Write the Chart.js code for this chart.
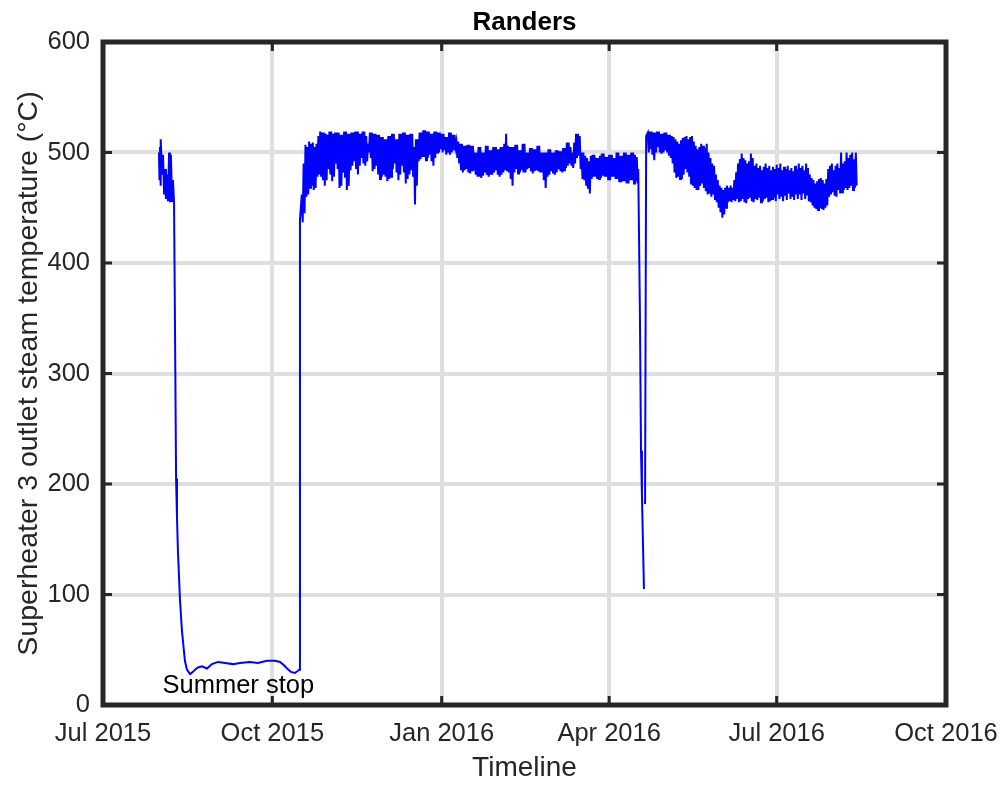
<!DOCTYPE html>
<html lang="en">
<head>
    <meta charset="UTF-8">
    <title>Randers</title>
    <script src="https://cdn.jsdelivr.net/npm/chart.js@4"></script>
    <style>
        html, body { margin: 0; padding: 0; background: #fff; }
        canvas { display: block; }
    </style>
</head>
<body>
<canvas id="tempChart" width="1005" height="787"></canvas>
<script>
    // x values are days counted from 1 Jul 2015
    const tickDays = [0, 92, 184, 275, 366, 458];
    const tickLabels = ['Jul 2015', 'Oct 2015', 'Jan 2016', 'Apr 2016', 'Jul 2016', 'Oct 2016'];

    // start-up, summer stop and restart
    const summerDays = [30.4, 30.7, 31.0, 31.2, 31.5, 32.1, 32.6, 33.2, 33.7, 34.2,
        34.8, 35.3, 35.9, 36.4, 36.9, 37.5, 38.0, 38.6, 39.1, 39.3,
        39.7, 40.2, 40.7, 41.8, 42.9, 44.5, 45.6, 47.3, 48.9, 50.0,
        51.6, 53.8, 56.5, 59.2, 62.5, 66.3, 70.6, 74.4, 79.9, 84.2,
        89.1, 93.4, 96.2, 98.3, 100.0, 102.1, 104.3, 105.9, 106.6, 107.0];
    const summerTemps = [500, 475, 505, 470, 512, 480, 498, 462, 485, 458,
        480, 456, 500, 455, 498, 456, 475, 455, 455, 300,
        205, 170, 140, 96, 67, 40, 32, 28, 30, 32,
        34, 35, 33, 37, 39, 38, 37, 38, 39, 38,
        40, 40, 39, 36, 33, 30, 29, 31, 32, 439];

    // daily high / low, mid Oct 2015 to mid Apr 2016
    const winterStartDay = 108;
    const winterHigh = [
        462, 490, 507, 505, 510, 508, 509, 505, 508, 515,
        519, 518, 518, 517, 516, 519, 519, 517, 518, 518,
        518, 516, 516, 519, 519, 517, 517, 518, 518, 519,
        519, 517, 517, 519, 519, 515, 508, 518, 518, 517,
        517, 516, 516, 514, 514, 512, 512, 515, 515, 517,
        517, 512, 512, 517, 517, 518, 518, 516, 516, 517,
        517, 505, 512, 512, 518, 518, 520, 520, 519, 519,
        517, 517, 519, 519, 518, 518, 517, 517, 514, 514,
        518, 518, 516, 516, 510, 510, 508, 508, 506, 506,
        507, 507, 506, 506, 500, 500, 505, 505, 500, 500,
        506, 506, 502, 502, 505, 505, 503, 503, 505, 505,
        508, 517, 506, 505, 505, 505, 507, 507, 502, 502,
        508, 508, 500, 500, 504, 504, 503, 503, 506, 506,
        500, 500, 500, 500, 503, 503, 500, 500, 502, 502,
        501, 501, 504, 504, 509, 509, 505, 500, 509, 517,
        517, 515, 500, 500, 497, 495, 492, 497, 498, 498,
        495, 495, 497, 499, 499, 496, 496, 498, 498, 495,
        495, 500, 500, 497, 497, 500, 500, 498, 498, 500,
        500, 498, 496
    ];
    const winterLow = [
        437, 445, 460, 462, 468, 470, 466, 468, 478, 480,
        478, 475, 470, 475, 485, 480, 474, 478, 490, 485,
        468, 470, 482, 478, 466, 470, 484, 488, 492, 485,
        480, 488, 495, 490, 488, 492, 500, 495, 483, 485,
        488, 480, 476, 478, 480, 478, 474, 476, 478, 485,
        490, 482, 475, 480, 488, 482, 472, 476, 480, 484,
        478, 453, 470, 492, 494, 496, 496, 493, 495, 498,
        492, 488, 495, 500, 500, 503, 500, 502, 498, 500,
        498, 500, 502, 505, 495, 490, 484, 482, 484, 485,
        482, 481, 484, 484, 480, 478, 478, 477, 479, 482,
        480, 478, 480, 480, 482, 484, 480, 478, 480, 482,
        484, 484, 482, 476, 470, 482, 485, 481, 482, 484,
        482, 482, 485, 486, 483, 481, 483, 484, 483, 482,
        482, 475, 468, 478, 480, 483, 482, 480, 482, 485,
        483, 482, 484, 486, 488, 490, 488, 486, 490, 495,
        497, 485, 476, 475, 470, 468, 463, 476, 478, 478,
        476, 476, 477, 479, 478, 478, 475, 475, 478, 478,
        476, 476, 473, 473, 474, 474, 472, 472, 475, 475,
        472, 474, 472
    ];

    // April trip, null = gap in the log
    const tripDays = [290.8, 291.7, 292.3, 292.8, 293.9, 294.2, 294.5, 294.8, 295.1];
    const tripTemps = [485, 355, 230, 190, 105, null, 182, 182, 515];

    // daily high / low after the restart
    const springStartDay = 296;
    const springHigh = [
        518, 519, 519, 518, 518, 519, 519, 517, 517, 518,
        518, 516, 516, 515, 514, 512, 510, 508, 511, 513,
        514, 515, 512, 514, 515, 510, 506, 503, 505, 508,
        506, 504, 508, 500, 495, 490, 488, 480, 475, 470,
        468, 466, 468, 470, 468, 470, 468, 475, 482, 490,
        494, 499, 495, 493, 490, 492, 499, 495, 488, 490,
        486, 488, 484, 487, 490, 486, 488, 484, 487, 485,
        489, 486, 490, 484, 487, 485, 488, 484, 486, 483,
        488, 485, 490, 486, 488, 484, 490, 486, 480, 477,
        475, 472, 474, 476, 477, 475, 472, 476, 485, 488,
        490, 484, 488, 490, 486, 500, 490, 492, 500, 495,
        498, 500, 494, 500
    ];
    const springLow = [
        500, 503, 498, 493, 500, 505, 500, 499, 500, 502,
        500, 497, 495, 490, 482, 477, 478, 476, 476, 480,
        485, 482, 478, 472, 470, 468, 466, 466, 470, 472,
        468, 465, 462, 463, 460, 462, 458, 455, 450, 446,
        441, 444, 450, 455, 456, 455, 457, 456, 458, 455,
        456, 458, 455, 454, 458, 459, 456, 455, 458, 457,
        459, 455, 456, 458, 459, 455, 456, 458, 459, 456,
        462, 458, 460, 456, 461, 457, 463, 458, 460, 457,
        462, 458, 462, 457, 463, 458, 462, 456, 455, 452,
        450, 449, 448, 450, 449, 448, 450, 452, 460, 462,
        464, 461, 460, 466, 463, 464, 466, 468, 466, 468,
        470, 466, 468, 470
    ];

    const fontFamily = "'Liberation Sans', Arial, Helvetica, sans-serif";
    const axisColor = '#262626';

    function buildPoints() {
        const pts = [];
        summerDays.forEach((d, i) => pts.push({ x: d, y: summerTemps[i] }));
        winterHigh.forEach((h, i) => {
            pts.push({ x: winterStartDay + i, y: h });
            pts.push({ x: winterStartDay + i + 0.5, y: winterLow[i] });
        });
        tripDays.forEach((d, i) => pts.push({ x: d, y: tripTemps[i] }));
        springHigh.forEach((h, i) => {
            pts.push({ x: springStartDay + i, y: h });
            pts.push({ x: springStartDay + i + 0.5, y: springLow[i] });
        });
        return pts;
    }

    // MATLAB style box with inward ticks, title over the plot area
    const boxPlugin = {
        id: 'boxPlugin',
        afterDraw(chart) {
            const { ctx, chartArea: a, scales } = chart;
            ctx.save();
            ctx.strokeStyle = axisColor;
            ctx.lineWidth = 3;
            const tl = 9;
            ctx.beginPath();
            tickDays.forEach(d => {
                const px = scales.x.getPixelForValue(d);
                ctx.moveTo(px, a.bottom); ctx.lineTo(px, a.bottom - tl);
                ctx.moveTo(px, a.top); ctx.lineTo(px, a.top + tl);
            });
            for (let v = 0; v <= 600; v += 100) {
                const py = scales.y.getPixelForValue(v);
                ctx.moveTo(a.left, py); ctx.lineTo(a.left + tl, py);
                ctx.moveTo(a.right, py); ctx.lineTo(a.right - tl, py);
            }
            ctx.stroke();
            ctx.lineWidth = 5;
            ctx.strokeRect(a.left, a.top, a.right - a.left, a.bottom - a.top);

            ctx.fillStyle = '#000';
            ctx.font = 'bold 26px ' + fontFamily;
            ctx.textAlign = 'center';
            ctx.textBaseline = 'middle';
            ctx.fillText('Randers', (a.left + a.right) / 2, 23);
            ctx.restore();
        }
    };

    const notePlugin = {
        id: 'notePlugin',
        afterDatasetsDraw(chart) {
            const { ctx, scales } = chart;
            ctx.save();
            ctx.fillStyle = '#000';
            ctx.font = '25.5px ' + fontFamily;
            ctx.textAlign = 'center';
            ctx.textBaseline = 'middle';
            ctx.fillText('Summer stop', scales.x.getPixelForValue(73.5), scales.y.getPixelForValue(17));
            ctx.restore();
        }
    };

    new Chart(document.getElementById('tempChart'), {
        type: 'line',
        data: {
            datasets: [{
                data: buildPoints(),
                borderColor: '#0000ff',
                borderWidth: 2,
                pointRadius: 0,
                tension: 0,
                spanGaps: false
            }]
        },
        options: {
            responsive: false,
            animation: false,
            devicePixelRatio: 1,
            layout: { padding: { left: 0, right: 59, top: 42, bottom: 0 } },
            plugins: {
                legend: { display: false },
                tooltip: { enabled: false },
                title: { display: false }
            },
            scales: {
                x: {
                    type: 'linear',
                    min: 0,
                    max: 458,
                    afterBuildTicks: axis => { axis.ticks = tickDays.map(v => ({ value: v })); },
                    afterFit: axis => {
                        axis.height = 82;
                        axis.paddingLeft = 0;
                        axis.paddingRight = 0;
                    },
                    grid: { color: '#dfdfdf', lineWidth: 4, drawTicks: false },
                    border: { display: false },
                    ticks: {
                        color: axisColor,
                        padding: 14,
                        maxRotation: 0,
                        autoSkip: false,
                        font: { family: fontFamily, size: 25.5 },
                        callback: value => tickLabels[tickDays.indexOf(value)]
                    },
                    title: {
                        display: true,
                        text: 'Timeline',
                        color: axisColor,
                        font: { family: fontFamily, size: 28 },
                        padding: { top: 0, bottom: 2 }
                    }
                },
                y: {
                    min: 0,
                    max: 600,
                    afterFit: axis => {
                        axis.width = 103;
                        axis.paddingTop = 0;
                        axis.paddingBottom = 0;
                    },
                    grid: { color: '#dfdfdf', lineWidth: 4, drawTicks: false },
                    border: { display: false },
                    ticks: {
                        stepSize: 100,
                        color: axisColor,
                        padding: 13,
                        font: { family: fontFamily, size: 25.5 }
                    },
                    title: {
                        display: true,
                        text: 'Superheater 3 outlet steam temperature (°C)',
                        color: axisColor,
                        font: { family: fontFamily, size: 28.5 },
                        padding: { top: 12, bottom: 0 }
                    }
                }
            }
        },
        plugins: [boxPlugin, notePlugin]
    });
</script>
</body>
</html>
